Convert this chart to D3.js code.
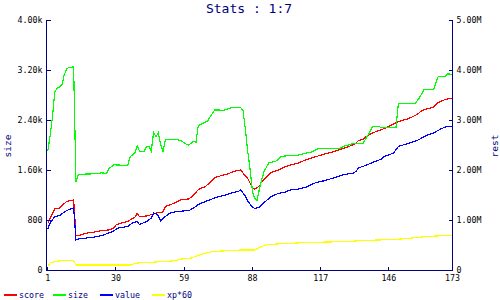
<!DOCTYPE html>
<html>
<head>
<meta charset="utf-8">
<script src="https://cdn.jsdelivr.net/npm/d3@7"></script>
<style>
body { margin: 0; background: #fff; }
svg { display: block; }
text { font-family: "DejaVu Sans Mono", monospace; }
</style>
</head>
<body>
<div class="stats-chart"></div>
<script>
var width = 500, height = 300;

var title = "Stats : 1:7";
var xTicks = [1, 30, 59, 88, 117, 146, 173];
var leftTicks = [0, 800, 1600, 2400, 3200, 4000];
var rightTicks = [0, 1e6, 2e6, 3e6, 4e6, 5e6];

// [day, value] ; size on left axis, the rest (millions) on right axis
var size = [[1,1900],[2,2150],[3,2450],[4,2850],[5,2910],[6,2930],[7,2960],[8,3120],[9,3220],[10,3240],[12,3250],[13,1405],[14,1530],[21,1540],[24,1555],[26,1545],[27,1620],[29,1683],[35,1672],[36,1810],[38,1875],[39,1990],[40,1900],[42,1900],[43,1980],[44,1980],[45,1900],[46,2205],[47,2130],[48,2195],[49,2010],[50,1900],[51,2088],[56,2088],[58,2060],[60,2008],[61,2000],[63,2060],[64,2045],[65,2312],[66,2328],[68,2365],[69,2381],[70,2450],[72,2560],[76,2557],[79,2595],[83,2600],[84,2550],[85,2250],[86,1900],[87,1610],[88,1260],[89,1140],[90,1117],[91,1300],[92,1450],[93,1580],[95,1715],[98,1741],[100,1811],[103,1832],[107,1832],[110,1864],[113,1885],[116,1944],[125,1944],[126,1960],[127,1981],[131,2024],[135,2024],[137,2150],[139,2291],[142,2291],[143,2275],[149,2275],[150,2659],[157,2659],[159,2755],[161,2888],[165,2888],[166,3000],[167,3101],[170,3101],[171,3139],[173,3128]];
var score = [[1,0.93],[2,1.04],[4,1.22],[6,1.24],[9,1.37],[12,1.40],[13,0.69],[14,0.69],[18,0.74],[21,0.76],[24,0.79],[27,0.80],[29,0.84],[30,0.90],[33,0.95],[35,0.97],[37,1.03],[38,1.05],[39,1.13],[40,1.07],[43,1.08],[46,1.12],[48,1.15],[50,1.16],[51,1.27],[55,1.34],[58,1.41],[61,1.42],[63,1.50],[65,1.61],[68,1.67],[70,1.75],[72,1.85],[75,1.89],[78,1.93],[80,1.97],[83,2.00],[85,1.88],[86,1.83],[88,1.64],[89,1.62],[91,1.68],[92,1.77],[94,1.86],[96,1.95],[99,2.00],[102,2.07],[105,2.11],[107,2.13],[109,2.17],[113,2.24],[118,2.31],[122,2.36],[126,2.42],[129,2.47],[132,2.53],[133,2.59],[135,2.61],[136,2.66],[139,2.74],[143,2.81],[146,2.87],[150,2.97],[154,3.02],[158,3.11],[160,3.19],[165,3.26],[167,3.35],[170,3.41],[173,3.44]];
var value = [[1,0.82],[2,0.94],[4,1.07],[6,1.09],[9,1.19],[12,1.24],[13,0.60],[14,0.62],[21,0.66],[24,0.69],[27,0.74],[29,0.78],[31,0.84],[35,0.87],[37,0.94],[39,0.97],[40,0.91],[43,0.97],[45,1.04],[46,1.14],[47,1.13],[48,1.08],[49,0.98],[51,1.07],[53,1.14],[56,1.17],[61,1.19],[63,1.24],[65,1.31],[68,1.37],[72,1.44],[74,1.47],[76,1.49],[79,1.54],[82,1.57],[83,1.60],[85,1.48],[86,1.38],[88,1.26],[89,1.23],[91,1.26],[93,1.35],[96,1.47],[99,1.53],[102,1.56],[104,1.60],[107,1.61],[111,1.66],[115,1.75],[119,1.79],[123,1.85],[127,1.91],[131,1.94],[132,1.97],[133,2.04],[136,2.09],[139,2.15],[143,2.22],[144,2.27],[148,2.34],[150,2.47],[154,2.53],[158,2.59],[162,2.69],[165,2.74],[168,2.82],[170,2.86],[173,2.88]];
var xp60 = [[1,0.09],[2,0.14],[4,0.17],[8,0.19],[12,0.19],[13,0.10],[36,0.10],[39,0.14],[47,0.16],[50,0.17],[54,0.18],[58,0.22],[62,0.24],[66,0.31],[71,0.37],[83,0.40],[89,0.40],[92,0.47],[94,0.51],[103,0.53],[111,0.55],[129,0.57],[135,0.59],[148,0.61],[154,0.63],[160,0.66],[166,0.68],[173,0.69]];

var series = [
  {name: "score", color: "#ff0000", data: score, axis: "right"},
  {name: "size",  color: "#00ff00", data: size,  axis: "left"},
  {name: "value", color: "#0000ff", data: value, axis: "right"},
  {name: "xp*60", color: "#ffff00", data: xp60,  axis: "right"}
];
var legendX = [4, 53, 100, 152];

var navy = "#000080";

var svg = d3.select(".stats-chart")
            .append("svg")
            .attr("width", width)
            .attr("height", height);

var x = d3.scaleLinear().domain([0, 173]).range([45.4, 452.4]);
var yL = d3.scaleLinear().domain([0, 4000]).range([270, 20]);
var yR = d3.scaleLinear().domain([0, 5e6]).range([270, 20]);

// lines first so the axes sit on top
series.forEach(function(s) {
  var line = d3.line()
      .x(function(d) { return x(d[0]); })
      .y(function(d) { return s.axis == "left" ? yL(d[1]) : yR(d[1] * 1e6); });
  svg.append("path")
      .datum(s.data)
      .attr("d", line)
      .attr("fill", "none")
      .attr("stroke", s.color)
      .attr("stroke-width", 1.2)
      .attr("shape-rendering", "crispEdges");
});

var fmtLeft = function(v) { return v == 0 ? "0" : v < 1000 ? v : (v / 1000).toFixed(2) + "k"; };
var fmtRight = function(v) { return v == 0 ? "0" : (v / 1e6).toFixed(2) + "M"; };

var gl = svg.append("g")
    .attr("transform", "translate(46.5,0)")
    .call(d3.axisLeft(yL).tickValues(leftTicks).tickFormat(fmtLeft)
            .tickSizeInner(-4).tickSizeOuter(0).tickPadding(4).offset(0.5));
var gr = svg.append("g")
    .attr("transform", "translate(452.5,0)")
    .call(d3.axisRight(yR).tickValues(rightTicks).tickFormat(fmtRight)
            .tickSizeInner(-4).tickSizeOuter(0).tickPadding(4).offset(0.5));
var gb = svg.append("g")
    .attr("transform", "translate(0,270.5)")
    .call(d3.axisBottom(x).tickValues(xTicks).tickFormat(d3.format("d"))
            .tickSizeInner(-4).tickSizeOuter(0).tickPadding(5).offset(0));

[gl, gr, gb].forEach(function(g) {
  g.selectAll(".domain").remove();
  g.selectAll(".tick line").attr("stroke", navy).attr("shape-rendering", "crispEdges");
  g.selectAll(".tick text")
      .attr("fill", "#000")
      .style("font-family", "'DejaVu Sans Mono', monospace")
      .style("font-size", "8.3px");
});

// axis frame lines
svg.append("path")
    .attr("d", "M46.5,20V270.5H452.5V20")
    .attr("fill", "none")
    .attr("stroke", navy)
    .attr("shape-rendering", "crispEdges");

svg.append("text")
    .attr("x", 249)
    .attr("y", 13)
    .attr("text-anchor", "middle")
    .attr("fill", navy)
    .style("font-size", "13px")
    .text(title);

svg.append("text")
    .attr("transform", "translate(11,146) rotate(-90)")
    .attr("text-anchor", "middle")
    .attr("fill", navy)
    .style("font-size", "9.5px")
    .text("size");

svg.append("text")
    .attr("transform", "translate(498,146) rotate(-90)")
    .attr("text-anchor", "middle")
    .attr("fill", navy)
    .style("font-size", "9.5px")
    .text("rest");

var legend = svg.append("g")
    .selectAll("g")
    .data(series)
  .enter().append("g")
    .attr("transform", function(d, i) { return "translate(" + legendX[i] + ",295)"; });

legend.append("rect")
    .attr("x", 0).attr("y", -1)
    .attr("width", 13).attr("height", 2)
    .attr("fill", function(d) { return d.color; });

legend.append("text")
    .attr("x", 15)
    .attr("y", 3)
    .attr("fill", navy)
    .style("font-size", "8.3px")
    .text(function(d) { return d.name; });
</script>
</body>
</html>
